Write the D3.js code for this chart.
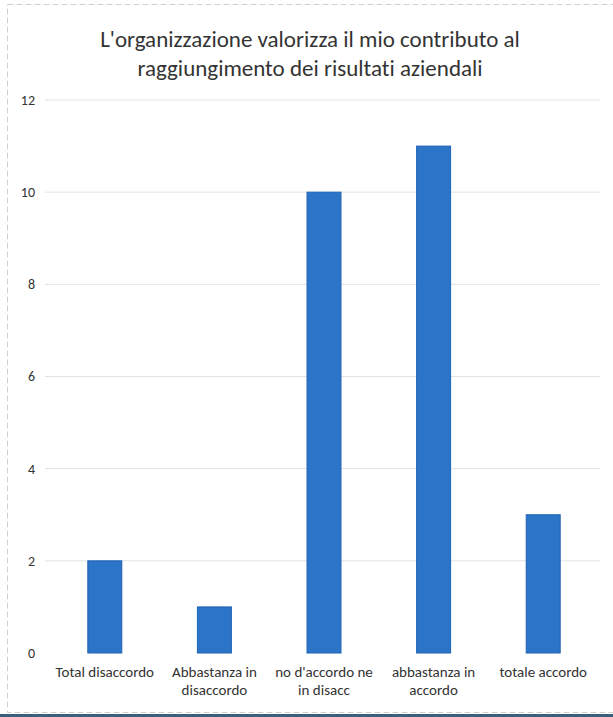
<!DOCTYPE html>
<html><head><meta charset="utf-8">
<script src="https://cdn.jsdelivr.net/npm/d3@7"></script>
<style>html,body{margin:0;padding:0;background:#fff;}svg{display:block;}text{font-variant-ligatures:none;}</style>
</head><body>
<svg id="chart" width="613" height="717"></svg>
<script>
const categories = [["Total disaccordo"], ["Abbastanza in","disaccordo"], ["no d'accordo ne","in disacc"], ["abbastanza in","accordo"], ["totale accordo"]];
const values = [2, 1, 10, 11, 3];
const yTicks = [0, 2, 4, 6, 8, 10, 12];
const titleLines = ["L'organizzazione valorizza il mio contributo al", "raggiungimento dei risultati aziendali"];

const svg = d3.select("#chart");
const font = "Carlito, Lato, 'Open Sans', 'Liberation Sans', sans-serif";

// frame
svg.append("rect").attr("x", 7.5).attr("y", 4.5).attr("width", 620).attr("height", 708)
  .attr("fill", "none").attr("stroke", "#d0d0d0").attr("stroke-dasharray", "6,3");
svg.append("rect").attr("x", 0).attr("y", 714).attr("width", 613).attr("height", 3).attr("fill", "#3a5f7a");

const mLeft = 50, mRight = 598, mTop = 100, mBottom = 653;
const x = d3.scaleBand().domain(d3.range(categories.length)).range([mLeft, mRight]).paddingInner(0.69).paddingOuter(0.345);
const y = d3.scaleLinear().domain([0, 12]).range([mBottom, mTop]);

// gridlines
svg.append("g").selectAll("line").data(yTicks.filter(d => d > 0)).join("line")
  .attr("x1", 45).attr("x2", 600).attr("y1", d => y(d)).attr("y2", d => y(d))
  .attr("stroke", "#e2e2e2").attr("stroke-width", 1);

// y axis
const yAxis = d3.axisLeft(y).tickValues(yTicks).tickSize(0).tickPadding(0);
const ya = svg.append("g").attr("transform", "translate(35,0)").call(yAxis);
ya.select(".domain").remove();
ya.selectAll("text").attr("font-family", font).attr("font-size", 14).attr("fill", "#333");

// bars
svg.append("g").selectAll("rect").data(values).join("rect")
  .attr("x", (d, i) => x(i)).attr("width", x.bandwidth())
  .attr("y", d => y(d)).attr("height", d => y(0) - y(d))
  .attr("fill", "#2b74c8").attr("stroke", "#1f63b3").attr("stroke-width", 1);

// x labels
const xl = svg.append("g").selectAll("text").data(categories).join("text")
  .attr("x", (d, i) => x(i) + x.bandwidth() / 2).attr("y", 677)
  .attr("text-anchor", "middle").attr("font-family", font).attr("font-size", 15).attr("fill", "#333");
xl.selectAll("tspan").data(d => d).join("tspan")
  .attr("x", function() { return d3.select(this.parentNode).attr("x"); })
  .attr("dy", (d, i) => i === 0 ? 0 : 18).text(d => d);

// title
svg.append("g").selectAll("text").data(titleLines).join("text")
  .attr("x", 310).attr("y", (d, i) => 47 + i * 29)
  .attr("text-anchor", "middle").attr("font-family", font).attr("font-size", 23).attr("fill", "#333")
  .text(d => d);
</script>
</body></html>
